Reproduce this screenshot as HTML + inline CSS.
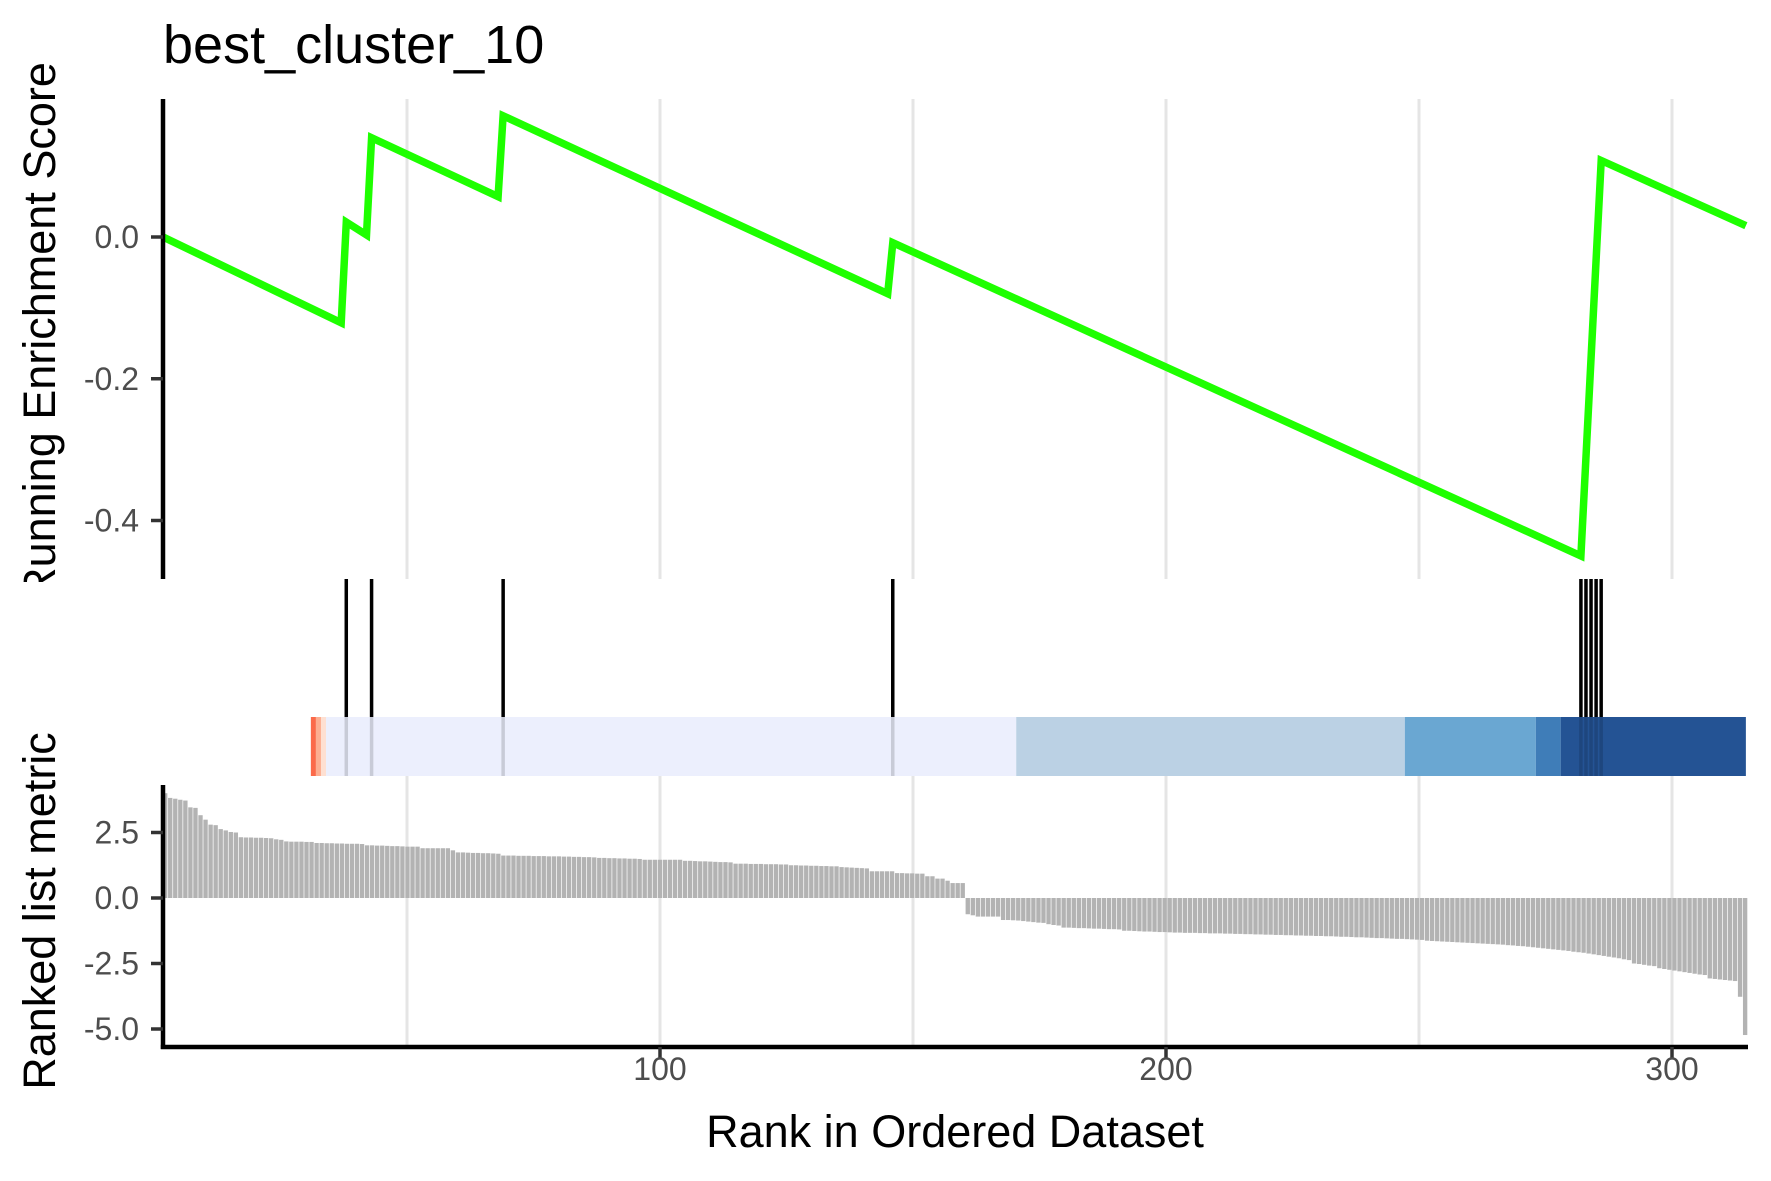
<!DOCTYPE html>
<html><head><meta charset="utf-8"><style>
html,body{margin:0;padding:0;background:#fff;}
svg{display:block;font-family:"Liberation Sans",Arial,sans-serif;}
</style></head><body>
<svg id="chart" width="1771" height="1181" viewBox="0 0 1771 1181">
<defs><clipPath id="clipTop"><rect x="0" y="0" width="1771" height="582"/></clipPath>
<clipPath id="clipPlot"><rect x="163" y="0" width="1585" height="1181"/></clipPath></defs>
<text x="163" y="63" font-size="54" fill="#000">best_cluster_10</text>
<g id="grid"></g><g id="bars"></g><g id="colorbar"></g><g id="hits"></g><g id="esline"></g><g id="axes"></g>
<g clip-path="url(#clipTop)"><text transform="translate(55,331) rotate(-90)" text-anchor="middle" font-size="45" fill="#000">Running Enrichment Score</text></g>
<text transform="translate(55,911) rotate(-90)" text-anchor="middle" font-size="45" fill="#000">Ranked list metric</text>
<text x="955" y="1147" text-anchor="middle" font-size="45" fill="#000">Rank in Ordered Dataset</text>
</svg>
<script>
const esRanks=[1.8,37,38,42,43,68,69,145,146,282,286,314.6];
const esValues=[0,-0.121,0.021,0.003,0.140,0.057,0.171,-0.080,-0.008,-0.450,0.108,0.016];
const hitRanks=[38,43,69,146,282,283,284,285,286];
const metricValues=[4.00,3.82,3.79,3.75,3.72,3.46,3.44,3.16,2.99,2.80,2.78,2.63,2.58,2.52,2.50,
2.32,2.31,2.31,2.30,2.30,2.29,2.28,2.24,2.22,2.16,2.15,2.15,2.15,2.14,2.14,
2.10,2.10,2.09,2.09,2.08,2.08,2.07,2.07,2.07,2.06,2.01,2.01,2.00,2.00,1.99,1.98,1.98,1.97,
1.96,1.96,1.96,1.90,1.90,1.90,1.90,1.90,1.90,1.82,
1.74,1.74,1.73,1.72,1.72,1.71,1.71,1.70,1.69,
1.62,1.62,1.62,1.61,1.61,1.61,1.60,1.60,1.60,1.59,1.59,1.59,1.58,1.58,1.57,1.57,1.56,1.56,1.55,
1.53,1.53,1.52,1.52,1.51,1.51,1.50,1.50,1.49,1.46,1.46,1.46,1.46,1.46,1.46,1.46,1.46,
1.42,1.42,1.41,1.40,1.40,1.39,1.38,1.37,1.37,1.36,
1.31,1.31,1.31,1.30,1.30,1.30,1.29,1.29,1.29,1.28,1.28,
1.25,1.25,1.24,1.24,1.23,1.23,1.22,1.22,1.21,1.21,1.18,1.17,1.16,1.15,1.14,1.13,
1.02,1.02,1.02,1.02,1.02,0.95,0.95,0.94,0.94,0.93,0.93,0.83,0.83,0.74,0.74,0.66,0.57,0.57,0.57,
-0.62,-0.66,-0.71,-0.71,-0.71,-0.71,-0.71,
-0.84,-0.84,-0.85,-0.86,-0.88,-0.90,-0.92,-0.94,-0.95,-1.00,-1.03,-1.05,
-1.13,-1.13,-1.14,-1.15,-1.15,-1.16,-1.17,-1.17,-1.18,-1.19,-1.19,-1.20,
-1.25,-1.25,-1.26,-1.27,-1.28,-1.28,-1.29,-1.30,-1.30,-1.31,
-1.32,-1.32,-1.33,-1.33,-1.33,-1.34,-1.34,-1.35,-1.35,-1.35,-1.36,-1.36,-1.37,-1.37,-1.38,-1.38,-1.39,-1.39,-1.40,-1.40,-1.41,
-1.41,-1.42,-1.42,-1.43,-1.43,-1.44,-1.44,-1.45,-1.45,-1.46,-1.46,-1.47,-1.48,-1.48,-1.49,-1.50,-1.50,-1.51,-1.52,-1.53,-1.53,-1.54,-1.55,-1.56,-1.56,-1.57,-1.58,-1.59,-1.60,
-1.63,-1.64,-1.65,-1.66,-1.67,-1.68,-1.69,-1.70,-1.71,-1.72,-1.73,-1.74,-1.75,-1.76,-1.77,-1.78,-1.80,-1.81,-1.83,-1.84,-1.86,
-1.88,-1.90,-1.92,-1.94,-1.96,-1.98,-2.00,-2.02,-2.05,-2.07,
-2.09,-2.12,-2.15,-2.18,-2.21,-2.24,-2.27,-2.30,-2.34,-2.37,
-2.50,-2.52,-2.55,-2.58,-2.60,-2.68,-2.71,-2.74,-2.77,
-2.80,-2.83,-2.86,-2.89,-2.92,-2.94,-3.07,-3.09,-3.11,-3.13,-3.15,-3.17,-3.77,-5.23];
const bandStarts=[31,32,33,34,170.4,247.2,273.1,278];
const bandEnds=[32,33,34,170.4,247.2,273.1,278,314.6];
const bandColors=["#FB6A4A","#FCAE91","#FEE0D2","#ECEFFD","#BBD1E4","#6AA7D2","#3F7DB8","#245394"];
const esTicks=[0,-0.2,-0.4];
const esTickLabels=["0.0","-0.2","-0.4"];
const metricTicks=[2.5,0,-2.5,-5];
const metricTickLabels=["2.5","0.0","-2.5","-5.0"];
const xTicks=[100,200,300];
const xTickLabels=["100","200","300"];
const gridRanks=[50,100,150,200,250,300];

const NS="http://www.w3.org/2000/svg";
const X0=163,X1=1748;
function xScale(r){return 660+(r-100)*5.06;}
function yES(v){return 237-v*708.75;}
function yM(v){return 898-v*26.2;}
function mk(tag,attrs,parent){const e=document.createElementNS(NS,tag);for(const k in attrs)e.setAttribute(k,attrs[k]);parent.appendChild(e);return e;}
const grid=document.getElementById('grid'),bars=document.getElementById('bars'),cb=document.getElementById('colorbar'),hits=document.getElementById('hits'),esg=document.getElementById('esline'),axes=document.getElementById('axes');

gridRanks.forEach(r=>{
  const x=xScale(r);
  let g=mk('line',{x1:x,x2:x,y1:99,y2:579,stroke:'#E5E5E5','stroke-width':3},grid);
  
  
  g=mk('line',{x1:x,x2:x,y1:776,y2:1047,stroke:'#E5E5E5','stroke-width':3},grid);
  
  
});

const bw=(X1-X0)/metricValues.length;
metricValues.forEach((v,i)=>{
  const x=X0+i*bw;
  const y1=yM(Math.max(v,0)),y2=yM(Math.min(v,0));
  const b=mk('rect',{x:x,y:y1,width:bw-0.7,height:Math.max(y2-y1,0.5),fill:'#B3B3B3'},bars);
  
  
});

bandStarts.forEach((s,i)=>{
  const x=Math.max(xScale(s),X0),xe=Math.min(xScale(bandEnds[i]),X1);
  const r=mk('rect',{x:x,y:717,width:xe-x,height:59,fill:bandColors[i]},cb);
  
  
});

hitRanks.forEach(h=>{
  const x=xScale(h);
  let l=mk('line',{x1:x,x2:x,y1:579,y2:717,stroke:'#000','stroke-width':3.5},hits);
  
  
  l=mk('line',{x1:x,x2:x,y1:717,y2:776,stroke:'#000','stroke-opacity':0.15,'stroke-width':3.5},hits);
  
  
});

const pts=esRanks.map((r,i)=>xScale(r).toFixed(1)+','+yES(esValues[i]).toFixed(1)).join(' ');
const pl=mk('polyline',{points:pts,fill:'none',stroke:'#1EFF00','stroke-width':7.5,'stroke-linejoin':'miter','clip-path':'url(#clipPlot)'},esg);



let a=mk('line',{x1:X0,x2:X0,y1:99,y2:579,stroke:'#000','stroke-width':4.5},axes);


a=mk('line',{x1:X0,x2:X0,y1:785,y2:1049,stroke:'#000','stroke-width':4.5},axes);


a=mk('line',{x1:X0-2.2,x2:X1,y1:1047,y2:1047,stroke:'#000','stroke-width':4.5},axes);



esTicks.forEach((v,i)=>{
  const y=yES(v);
  const t=mk('line',{x1:151,x2:163,y1:y,y2:y,stroke:'#333','stroke-width':3.5},axes);
  
  
  const tx=mk('text',{x:139,y:y+11,'text-anchor':'end','font-size':32,fill:'#4D4D4D'},axes);
  tx.textContent=esTickLabels[i];
  
  
});
metricTicks.forEach((v,i)=>{
  const y=yM(v);
  const t=mk('line',{x1:151,x2:163,y1:y,y2:y,stroke:'#333','stroke-width':3.5},axes);
  
  
  const tx=mk('text',{x:139,y:y+11,'text-anchor':'end','font-size':32,fill:'#4D4D4D'},axes);
  tx.textContent=metricTickLabels[i];
  
  
});
xTicks.forEach((r,i)=>{
  const x=xScale(r);
  const t=mk('line',{x1:x,x2:x,y1:1047,y2:1059,stroke:'#333','stroke-width':3.5},axes);
  
  
  const tx=mk('text',{x:x,y:1080,'text-anchor':'middle','font-size':32,fill:'#4D4D4D'},axes);
  tx.textContent=xTickLabels[i];
  
  
});
</script>
</body></html>
